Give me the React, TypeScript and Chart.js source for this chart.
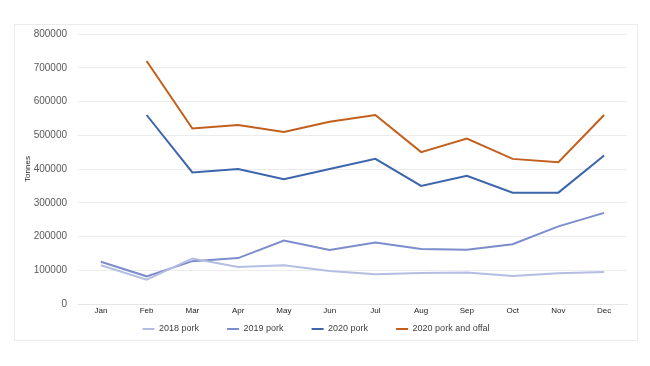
import React, { useEffect, useRef } from "react";
import { Chart, registerables } from "chart.js";

Chart.register(...registerables);

const months = ["Jan", "Feb", "Mar", "Apr", "May", "Jun", "Jul", "Aug", "Sep", "Oct", "Nov", "Dec"];
const pork2018 = [115000, 72000, 135000, 110000, 115000, 98000, 88000, 92000, 93000, 83000, 91000, 95000];
const pork2019 = [125000, 82000, 127000, 136000, 188000, 160000, 182000, 163000, 161000, 177000, 230000, 270000];
const pork2020 = [null, 560000, 390000, 400000, 370000, 400000, 430000, 350000, 380000, 330000, 330000, 440000];
const porkOffal2020 = [null, 720000, 520000, 530000, 510000, 540000, 560000, 450000, 490000, 430000, 420000, 560000];
const yTicks = [0, 100000, 200000, 300000, 400000, 500000, 600000, 700000, 800000];

const legendShift = {
  id: "legendShift",
  afterLayout(chart: any) {
    const lg = chart.legend;
    if (!lg) return;
    lg.top -= 18.5;
    lg.left -= 9;
    lg.right -= 9;
  },
};

export default function App() {
  const ref = useRef<HTMLCanvasElement>(null);
  useEffect(() => {
    const ctx = ref.current!;
    const mk = (label: string, data: (number | null)[], color: string) => ({
      label,
      data,
      borderColor: color,
      backgroundColor: color,
      borderWidth: 2,
      pointRadius: 0,
      tension: 0,
      spanGaps: false,
    });
    const chart = new Chart(ctx, {
      type: "line",
      data: {
        labels: months,
        datasets: [
          mk("2018 pork", pork2018, "#b4bde2"),
          mk("2019 pork", pork2019, "#7b8dcb"),
          mk("2020 pork", pork2020, "#3c65ab"),
          mk("2020 pork and offal", porkOffal2020, "#c35f1c"),
        ],
      },
      plugins: [legendShift],
      options: {
        animation: false,
        responsive: false,
        maintainAspectRatio: false,
        layout: { padding: { left: 23, right: 23, top: 34, bottom: 24 } },
        plugins: {
          tooltip: { enabled: false },
          legend: {
            position: "bottom",
            maxHeight: 27,
            labels: {
              usePointStyle: true,
              pointStyle: "line",
              pointStyleWidth: 12,
              boxHeight: 9,
              padding: 28,
              color: "#404040",
              font: { family: "Liberation Sans, Arial, sans-serif", size: 9 },
            },
          },
        },
        scales: {
          x: {
            offset: true,
            grid: { display: false, drawTicks: false },
            border: { display: true, color: "#e6e6e6" },
            afterFit: (s: any) => {
              s.height = 11;
            },
            ticks: {
              color: "#222",
              padding: 2,
              maxRotation: 0,
              autoSkip: false,
              font: { family: "Liberation Sans, Arial, sans-serif", size: 8 },
            },
          },
          y: {
            min: 0,
            max: 800000,
            afterBuildTicks: (s: any) => {
              s.ticks = yTicks.map((v) => ({ value: v }));
            },
            afterFit: (s: any) => {
              s.width = 55;
            },
            grid: { color: "#ececec", drawTicks: false },
            border: { display: false },
            title: {
              display: true,
              text: "Tonnes",
              color: "#222",
              padding: { top: 0, bottom: 12 },
              font: { family: "Liberation Sans, Arial, sans-serif", size: 8 },
            },
            ticks: {
              color: "#595959",
              padding: 11,
              font: { family: "Liberation Sans, Arial, sans-serif", size: 10 },
              callback: (v: any) => String(v),
            },
          },
        },
      },
    });
    return () => chart.destroy();
  }, []);
  return (
    <div style={{ position: "absolute", left: 0, top: 0, width: 650, height: 366, background: "#fff" }}>
      <div
        style={{
          position: "absolute",
          left: 14,
          top: 24,
          width: 624,
          height: 317,
          border: "1px solid #ececec",
          boxSizing: "border-box",
        }}
      />
      <canvas ref={ref} width={650} height={366} style={{ position: "absolute", left: 0, top: 0 }} />
    </div>
  );
}
